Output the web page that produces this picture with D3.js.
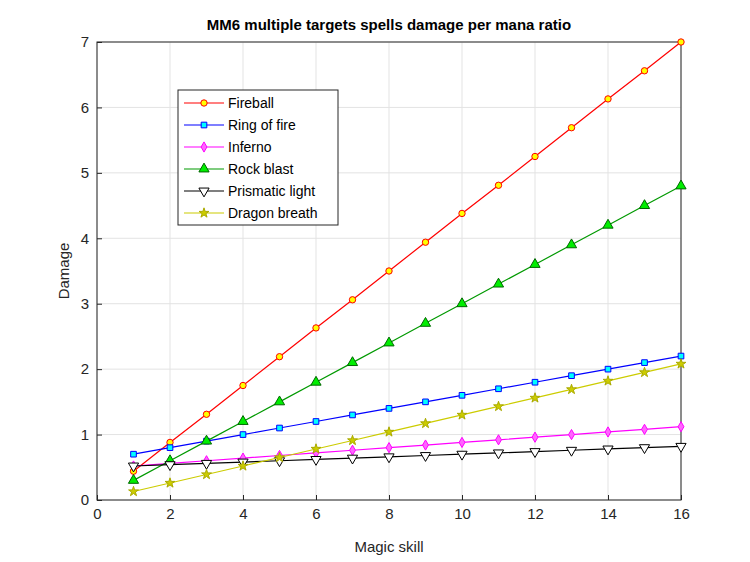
<!DOCTYPE html>
<html><head><meta charset="utf-8">
<script src="https://cdn.jsdelivr.net/npm/d3@7"></script>
<style>body{margin:0;background:#fff;font-family:"Liberation Sans",Arial,sans-serif}</style>
</head><body>
<svg id="c" width="750" height="562"></svg>
<script>
var skills = [1,2,3,4,5,6,7,8,9,10,11,12,13,14,15,16];
var fireball = [0.44,0.88,1.31,1.75,2.19,2.63,3.06,3.5,3.94,4.38,4.81,5.25,5.69,6.13,6.56,7.0];
var ringOfFire = [0.7,0.8,0.9,1.0,1.1,1.2,1.3,1.4,1.5,1.6,1.7,1.8,1.9,2.0,2.1,2.2];
var inferno = [0.52,0.56,0.6,0.64,0.68,0.72,0.76,0.8,0.84,0.88,0.92,0.96,1.0,1.04,1.08,1.12];
var rockBlast = [0.3,0.6,0.9,1.2,1.5,1.8,2.1,2.4,2.7,3.0,3.3,3.6,3.9,4.2,4.5,4.8];
var prismatic = [0.52,0.54,0.56,0.58,0.6,0.62,0.64,0.66,0.68,0.7,0.72,0.74,0.76,0.78,0.8,0.82];
var dragon = [0.13,0.26,0.39,0.52,0.65,0.78,0.91,1.04,1.17,1.3,1.43,1.56,1.69,1.82,1.95,2.08];
var xTicks = [0,2,4,6,8,10,12,14,16];
var yTicks = [0,1,2,3,4,5,6,7];

var series = [
  {name:"Fireball", v:fireball, line:"#ff0000", fill:"#ffff00", stroke:"#ff0000", sym:d3.symbolCircle, size:32},
  {name:"Ring of fire", v:ringOfFire, line:"#0000ff", fill:"#00ffff", stroke:"#0000ff", sym:d3.symbolSquare, size:32},
  {name:"Inferno", v:inferno, line:"#ff00ff", fill:"#ff66ff", stroke:"#ff00ff", sym:d3.symbolDiamond, size:30},
  {name:"Rock blast", v:rockBlast, line:"#009900", fill:"#00ee00", stroke:"#006600", sym:d3.symbolTriangle, size:45},
  {name:"Prismatic light", v:prismatic, line:"#000000", fill:"#ffffff", stroke:"#000000", sym:d3.symbolTriangle, size:45, flip:true},
  {name:"Dragon breath", v:dragon, line:"#cccc00", fill:"#cccc00", stroke:"#aaaa00", sym:d3.symbolStar, size:30}
];

var svg = d3.select("#c");
var L=97, R=681, T=42, B=500;
var x = d3.scaleLinear().domain([0,16]).range([L,R]);
var y = d3.scaleLinear().domain([0,7]).range([B,T]);

// grid
svg.append("g").selectAll("line").data(xTicks).join("line")
  .attr("x1",d=>x(d)).attr("x2",d=>x(d)).attr("y1",T).attr("y2",B)
  .attr("stroke","#e3e3e3");
svg.append("g").selectAll("line").data(yTicks).join("line")
  .attr("x1",L).attr("x2",R).attr("y1",d=>y(d)).attr("y2",d=>y(d))
  .attr("stroke","#e3e3e3");
svg.append("rect").attr("x",L).attr("y",T).attr("width",R-L).attr("height",B-T)
  .attr("fill","none").attr("stroke","#262626");

var ax = svg.append("g").attr("transform","translate(0,"+B+")")
  .call(d3.axisBottom(x).tickValues(xTicks).tickFormat(d3.format("d")).tickSize(-5).tickPadding(8));
var ay = svg.append("g").attr("transform","translate("+L+",0)")
  .call(d3.axisLeft(y).tickValues(yTicks).tickFormat(d3.format("d")).tickSize(-5).tickPadding(8));
[ax,ay].forEach(function(a){
  a.select(".domain").remove();
  a.selectAll("text").attr("font-size",15).attr("fill","#262626").attr("font-family","Liberation Sans, Arial");
  a.selectAll("line").attr("stroke","#262626");
});

svg.append("text").attr("x",(L+R)/2).attr("y",30).attr("text-anchor","middle")
  .attr("font-size",15).attr("font-weight","bold").text("MM6 multiple targets spells damage per mana ratio");
svg.append("text").attr("x",(L+R)/2).attr("y",552).attr("text-anchor","middle")
  .attr("font-size",15).attr("fill","#262626").text("Magic skill");
svg.append("text").attr("transform","translate(69,"+((T+B)/2)+") rotate(-90)").attr("text-anchor","middle")
  .attr("font-size",15).attr("fill","#262626").text("Damage");

var line = d3.line().x((d,i)=>x(skills[i])).y(d=>y(d));
function marker(sel, s){
  sel.attr("d", d3.symbol().type(s.sym).size(s.size))
    .attr("fill", s.fill).attr("stroke", s.stroke).attr("stroke-width",1);
}
series.forEach(function(s){
  svg.append("path").datum(s.v).attr("d",line).attr("fill","none").attr("stroke",s.line).attr("stroke-width",1.2);
  svg.append("g").selectAll("path").data(s.v).join("path")
    .attr("transform",(d,i)=>"translate("+x(skills[i])+","+y(d)+")"+(s.flip?" rotate(180)":""))
    .call(marker, s);
});

// legend
var lg = svg.append("g").attr("transform","translate(178,90)");
lg.append("rect").attr("width",160).attr("height",135).attr("fill","#fff").attr("stroke","#262626");
series.forEach(function(s,i){
  var yy = 13 + i*22;
  lg.append("line").attr("x1",6).attr("x2",46).attr("y1",yy).attr("y2",yy).attr("stroke",s.line).attr("stroke-width",1.2);
  lg.append("path").attr("transform","translate(26,"+yy+")"+(s.flip?" rotate(180)":"")).call(marker, s);
  lg.append("text").attr("x",50).attr("y",yy+5).attr("font-size",14).text(s.name);
});
</script>
</body></html>
